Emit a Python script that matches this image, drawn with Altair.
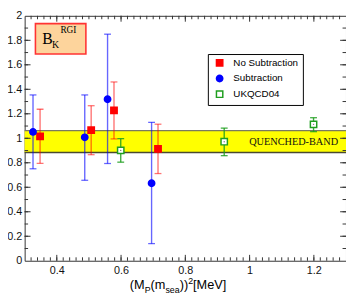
import altair as alt
import pandas as pd
import numpy as np

# ---------------- data ----------------
series_names = ["No Subtraction", "Subtraction", "UKQCD04"]

nosub_x = [0.348, 0.507, 0.578, 0.715]
nosub_y = [1.016, 1.066, 1.228, 0.913]
nosub_lo = [0.796, 0.866, 0.995, 0.712]
nosub_hi = [1.237, 1.266, 1.460, 1.115]

sub_x = [0.326, 0.487, 0.558, 0.695]
sub_y = [1.052, 1.008, 1.319, 0.633]
sub_lo = [0.751, 0.657, 0.794, 0.140]
sub_hi = [1.354, 1.354, 1.850, 1.130]

uk_x = [0.599, 0.921, 1.199]
uk_y = [0.901, 0.972, 1.114]
uk_lo = [0.805, 0.858, 1.054]
uk_hi = [0.997, 1.083, 1.168]

band_lo = [0.884]
band_hi = [1.062]

x_labels = [0.4, 0.6, 0.8, 1.0, 1.2]
y_labels = [0, 0.2, 0.4, 0.6, 0.8, 1.0, 1.2, 1.4, 1.6, 1.8, 2.0]

colors = ["#ff0000", "#0000ff", "#1f9e1f"]
bar_opacity = [0.55, 0.6, 0.85]
shapes = ["square", "circle", "square"]
fills = ["#ff0000", "#0000ff", "#ffffff"]

W, H = 328, 250

# ---------------- tables ----------------
frames = []
for name, xs, ys, los, his in [
    (series_names[0], nosub_x, nosub_y, nosub_lo, nosub_hi),
    (series_names[1], sub_x, sub_y, sub_lo, sub_hi),
    (series_names[2], uk_x, uk_y, uk_lo, uk_hi),
]:
    frames.append(pd.DataFrame({"series": name, "x": xs, "y": ys, "lo": los, "hi": his}))
pts = pd.concat(frames, ignore_index=True)

xscale = alt.Scale(domain=[0.3, 1.3], nice=False, zero=False)
yscale = alt.Scale(domain=[0, 2], nice=False, zero=False)
xaxis = alt.Axis(values=x_labels, format="~g", ticks=False, domain=False,
                 grid=False, title=None, labelPadding=4)
yaxis = alt.Axis(values=y_labels, format="~g", ticks=False, domain=False,
                 grid=False, title=None, labelPadding=3)

def XF(f):
    return alt.X(f, scale=xscale, axis=xaxis, title=None)

def YF(f):
    return alt.Y(f, scale=yscale, axis=yaxis, title=None)

one = pd.DataFrame({"_": [0]})

# band
band_df = pd.DataFrame({"lo": band_lo, "hi": band_hi})
band = alt.Chart(band_df).mark_rect(color="#ffff00").encode(
    x=alt.value(0), x2=alt.value(W), y=YF("lo:Q"), y2="hi:Q")
band_top = alt.Chart(band_df).mark_rule(color="#7a7a60", strokeWidth=1.3).encode(
    x=alt.value(0), x2=alt.value(W), y=YF("hi:Q"))
band_bot = alt.Chart(band_df).mark_rule(color="#4a4a30", strokeWidth=1.3).encode(
    x=alt.value(0), x2=alt.value(W), y=YF("lo:Q"))
band_text = alt.Chart(pd.DataFrame({"t": ["QUENCHED-BAND"], "x": [1.137],
                                    "y": [(band_lo[0] + band_hi[0]) / 2]})).mark_text(
    font="Liberation Serif", fontSize=10.5, color="#111", align="center", baseline="middle"
).encode(x=XF("x:Q"), y=YF("y:Q"), text="t:N")

# error bars per series
err_layers = []
for i, name in enumerate(series_names):
    d = pts[pts.series == name]
    base = alt.Chart(d)
    err_layers.append(base.mark_rule(color=colors[i], strokeWidth=1.4, opacity=bar_opacity[i]).encode(
        x=XF("x:Q"), y=YF("lo:Q"), y2="hi:Q"))
    for f in ["lo", "hi"]:
        err_layers.append(base.mark_tick(color=colors[i], orient="horizontal", size=7,
                                         thickness=1.3, opacity=bar_opacity[i]).encode(
            x=XF("x:Q"), y=YF(f + ":Q")))

legend = alt.Legend(title=None, orient="none", legendX=187, legendY=39,
                    strokeColor="#000", fillColor="#fff", padding=4,
                    labelFont="Liberation Sans", labelFontSize=10, labelColor="#000",
                    symbolStrokeWidth=1.5, symbolSize=42, rowPadding=2, labelOffset=9,
                    symbolOffset=3, labelLimit=200)

points = alt.Chart(pts).mark_point(size=42, strokeWidth=1.5, opacity=1, fillOpacity=1).encode(
    x=XF("x:Q"), y=YF("y:Q"),
    stroke=alt.Stroke("series:N", scale=alt.Scale(domain=series_names, range=colors), legend=legend),
    fill=alt.Fill("series:N", scale=alt.Scale(domain=series_names, range=fills), legend=legend),
    shape=alt.Shape("series:N", scale=alt.Scale(domain=series_names, range=shapes), legend=legend),
)
dots = alt.Chart(pts[pts.series == "UKQCD04"]).mark_circle(size=2, color="#777", opacity=1).encode(
    x=XF("x:Q"), y=YF("y:Q"))

# inward ticks on all four sides
x_minor = pd.DataFrame({"x": np.round(np.arange(0.32, 1.295, 0.02), 2)})
x_major = pd.DataFrame({"x": x_labels})
y_minor = pd.DataFrame({"y": np.round(np.arange(0.1, 1.95, 0.1), 2)})
y_major = pd.DataFrame({"y": y_labels[1:-1]})
tick_layers = []
for df, ln in [(x_minor, 3.5), (x_major, 6)]:
    tick_layers.append(alt.Chart(df).mark_rule(color="#333", strokeWidth=1).encode(
        x=XF("x:Q"), y=alt.value(H), y2=alt.value(H - ln)))
    tick_layers.append(alt.Chart(df).mark_rule(color="#333", strokeWidth=1).encode(
        x=XF("x:Q"), y=alt.value(0), y2=alt.value(ln)))
for df, ln in [(y_minor, 3.5), (y_major, 6)]:
    tick_layers.append(alt.Chart(df).mark_rule(color="#333", strokeWidth=1).encode(
        y=YF("y:Q"), x=alt.value(0), x2=alt.value(ln)))
    tick_layers.append(alt.Chart(df).mark_rule(color="#333", strokeWidth=1).encode(
        y=YF("y:Q"), x=alt.value(W), x2=alt.value(W - ln)))

# B_K^RGI box
bk_box = alt.Chart(one).mark_rect(fill="#fdd49c", stroke="#ff3333", strokeWidth=1.6).encode(
    x=alt.value(11), x2=alt.value(62.5), y=alt.value(8), y2=alt.value(39))

def txt(t, x, y, size, font="Liberation Serif"):
    return alt.Chart(one).mark_text(text=t, font=font, fontSize=size, color="#000",
                                    align="left", baseline="alphabetic").encode(
        x=alt.value(x), y=alt.value(y))

bk_texts = [txt("B", 18, 28.5, 16), txt("K", 28, 33, 10), txt("RGI", 36.5, 17.5, 9.5)]

# x-axis title with sub/superscripts
sans = "Liberation Sans"
tx0, by = 107.3, 279
title_parts = [
    txt("(M", tx0, by, 13, sans),
    txt("P", tx0 + 15.2, by + 3.5, 9, sans),
    txt("(m", tx0 + 21.2, by, 13, sans),
    txt("sea", tx0 + 36.4, by + 3.5, 9, sans),
    txt("))", tx0 + 50.9, by, 13, sans),
    txt("2", tx0 + 59.6, by - 5.5, 9, sans),
    txt("[MeV]", tx0 + 64.6, by, 13, sans),
]

chart = alt.layer(
    band, band_top, band_bot, band_text, *err_layers, points, dots, *tick_layers,
    bk_box, *bk_texts, *title_parts
).properties(
    width=W, height=H,
    autosize=alt.AutoSizeParams(type="none"),
    padding={"left": 17, "top": 5, "right": 0, "bottom": 33},
).configure_view(stroke="#333", strokeWidth=1).configure_axis(
    labelFont="Liberation Sans", labelFontSize=11, labelColor="#111"
)

chart.save("out.html", embed_options={"renderer": "svg", "actions": False})
